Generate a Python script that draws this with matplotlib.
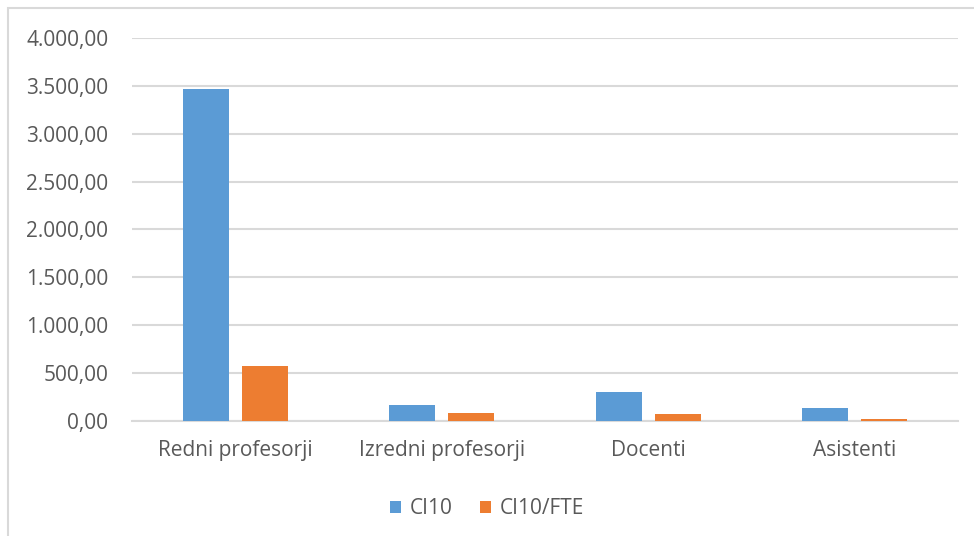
import numpy as np
import matplotlib.pyplot as plt
from matplotlib.patches import Rectangle
from matplotlib.ticker import FuncFormatter

categories = ['Redni profesorji', 'Izredni profesorji', 'Docenti', 'Asistenti']
ci10 = [3470, 162, 303, 136]
ci10_fte = [575, 80, 68, 20]

blue = '#5B9BD5'
orange = '#ED7D31'
txt = '#595959'
grid = '#D9D9D9'

plt.rcParams['font.family'] = ['Open Sans', 'DejaVu Sans']

fig = plt.figure(figsize=(9.74, 5.36), dpi=100)
ax = fig.add_axes([132/974, 1-421/536, 826/974, 383/536])

# chart area frame (cut off at right and bottom)
fig.patches.append(Rectangle((8/974, -0.1), 1.2, 1-8/536+0.1, transform=fig.transFigure,
                             fill=False, edgecolor=grid, linewidth=1.5))

x = np.arange(len(categories))
w = 0.223
ax.bar(x - 0.143, ci10, w, color=blue, label='CI10', zorder=3)
ax.bar(x + 0.143, ci10_fte, w, color=orange, label='CI10/FTE', zorder=3)

ax.set_xlim(-0.5, 3.5)
ax.set_ylim(0, 4000)
ax.set_yticks(np.arange(0, 4001, 500))

def fmt(v, pos):
    s = '{:,.2f}'.format(v)
    return s.replace(',', 'X').replace('.', ',').replace('X', '.')

ax.yaxis.set_major_formatter(FuncFormatter(fmt))
ax.set_xticks(x)
ax.set_xticklabels(categories)
ax.tick_params(axis='both', length=0, labelsize=15, labelcolor=txt)
ax.tick_params(axis='y', pad=17)
ax.tick_params(axis='x', pad=14)
ax.grid(axis='y', color=grid, linewidth=1.5, zorder=0)
for s in ['left', 'right', 'top']:
    ax.spines[s].set_visible(False)
ax.spines['bottom'].set_color(grid)
ax.spines['bottom'].set_linewidth(1.5)

fig.legend(loc='center', bbox_to_anchor=(0.5, 1-509/536), ncol=2, frameon=False,
           fontsize=15, labelcolor=txt, handlelength=0.55, handleheight=0.55,
           handletextpad=0.4, columnspacing=1.3)

fig.savefig('out.png', dpi=100)
